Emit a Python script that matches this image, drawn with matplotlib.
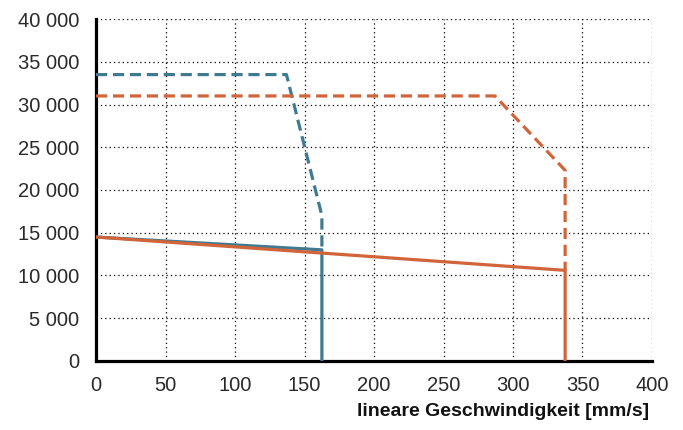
import matplotlib.pyplot as plt
from matplotlib.ticker import FuncFormatter

# Kurven
blau_dash_x = [0, 137, 162.5, 162.5]
blau_dash_y = [33500, 33500, 17000, 13000]
blau_solid_x = [0, 162.5, 162.5]
blau_solid_y = [14500, 13000, 0]

orange_dash_x = [0, 287, 337.5, 337.5]
orange_dash_y = [31000, 31000, 22300, 10600]
orange_solid_x = [0, 337.5, 337.5]
orange_solid_y = [14500, 10600, 0]

x_ticks = [0, 50, 100, 150, 200, 250, 300, 350, 400]
y_ticks = [0, 5000, 10000, 15000, 20000, 25000, 30000, 35000, 40000]

blau = "#3f7b90"
orange = "#d2643a"

plt.rcParams['font.family'] = ['Liberation Sans', 'DejaVu Sans']

fig = plt.figure(figsize=(6.83, 4.30), dpi=100)
ax = fig.add_axes([0.1406, 0.1605, 0.8140, 0.7953])

ax.plot(blau_dash_x, blau_dash_y, color=blau, lw=2.3, ls=(0, (3.5, 1.8)), zorder=3)
ax.plot(orange_dash_x, orange_dash_y, color=orange, lw=2.3, ls=(0, (3.5, 1.8)), zorder=3)
ax.plot(blau_solid_x, blau_solid_y, color=blau, lw=2.3, zorder=3)
ax.plot(orange_solid_x, orange_solid_y, color=orange, lw=2.3, zorder=4)

ax.set_xlim(0, 400)
ax.set_ylim(0, 40000)
ax.set_xticks(x_ticks)
ax.set_yticks(y_ticks)
ax.yaxis.set_major_formatter(FuncFormatter(lambda v, p: f"{int(v):,}".replace(",", " ")))

ax.grid(True, color="black", ls=(0, (1, 2.5)), lw=0.9)
ax.tick_params(length=0, labelsize=14.5, labelcolor="#2a2a2a")
ax.tick_params(axis="y", pad=12)
ax.tick_params(axis="x", pad=11)

for s in ["top", "right"]:
    ax.spines[s].set_visible(False)
for s in ["left", "bottom"]:
    ax.spines[s].set_linewidth(2.3)
    ax.spines[s].set_color("black")

fig.text(0.951, 0.043, "lineare Geschwindigkeit [mm/s]", ha="right", va="center",
         fontsize=14, fontweight="bold", color="#111111")

fig.savefig("out.png", dpi=100)
